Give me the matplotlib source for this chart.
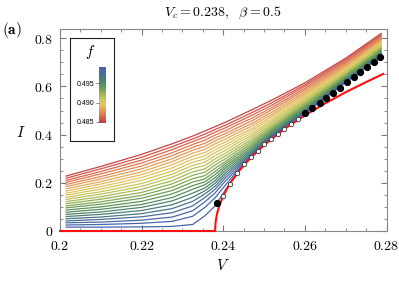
import numpy as np
import matplotlib
matplotlib.use('Agg')
import matplotlib.pyplot as plt
from matplotlib.colors import LinearSegmentedColormap, Normalize
from matplotlib.ticker import MultipleLocator, FuncFormatter
import matplotlib as mpl

plt.rcParams['mathtext.fontset'] = 'cm'
plt.rcParams['font.family'] = 'serif'
plt.rcParams['font.serif'] = ['DejaVu Serif']

# V grid shared by all f curves
V_grid = [0.2015, 0.21, 0.22, 0.2275, 0.2325, 0.2355, 0.238, 0.2405, 0.2435, 0.247, 0.252, 0.26, 0.27, 0.2787]

# f of each curve (column order of I_table), bottom curve first
f_vals = [0.4990, 0.4984, 0.4978, 0.4973, 0.4967, 0.4961, 0.4955, 0.4949, 0.4943, 0.4938,
          0.4932, 0.4926, 0.4920, 0.4914, 0.4908, 0.4903, 0.4897, 0.4891, 0.4885, 0.4879,
          0.4873, 0.4868, 0.4862, 0.4856, 0.4850]

# I values, one row per V in V_grid, one column per f
I_table = [
    [0.016, 0.025, 0.034, 0.042, 0.051, 0.060, 0.069, 0.078, 0.087, 0.096, 0.104, 0.113, 0.122, 0.131, 0.140, 0.149, 0.157, 0.166, 0.175, 0.184, 0.193, 0.202, 0.210, 0.219, 0.228],
    [0.016, 0.027, 0.037, 0.048, 0.058, 0.069, 0.079, 0.090, 0.100, 0.111, 0.121, 0.132, 0.142, 0.153, 0.163, 0.174, 0.184, 0.195, 0.205, 0.216, 0.226, 0.237, 0.247, 0.258, 0.268],
    [0.017, 0.032, 0.045, 0.059, 0.072, 0.085, 0.098, 0.110, 0.123, 0.136, 0.148, 0.160, 0.173, 0.185, 0.197, 0.210, 0.222, 0.234, 0.246, 0.258, 0.270, 0.282, 0.294, 0.306, 0.318],
    [0.019, 0.040, 0.058, 0.076, 0.093, 0.109, 0.125, 0.139, 0.154, 0.168, 0.182, 0.196, 0.209, 0.223, 0.236, 0.249, 0.262, 0.275, 0.288, 0.300, 0.313, 0.325, 0.338, 0.350, 0.362],
    [0.027, 0.061, 0.084, 0.104, 0.123, 0.140, 0.157, 0.173, 0.188, 0.203, 0.217, 0.231, 0.245, 0.259, 0.272, 0.285, 0.298, 0.310, 0.323, 0.335, 0.347, 0.359, 0.371, 0.382, 0.394],
    [0.063, 0.098, 0.121, 0.139, 0.154, 0.167, 0.179, 0.192, 0.204, 0.216, 0.230, 0.244, 0.258, 0.272, 0.286, 0.299, 0.312, 0.326, 0.339, 0.352, 0.364, 0.377, 0.390, 0.402, 0.415],
    [0.104, 0.138, 0.158, 0.173, 0.186, 0.198, 0.209, 0.221, 0.234, 0.247, 0.260, 0.274, 0.287, 0.299, 0.312, 0.325, 0.337, 0.349, 0.362, 0.374, 0.386, 0.398, 0.410, 0.421, 0.433],
    [0.170, 0.190, 0.207, 0.220, 0.231, 0.241, 0.251, 0.261, 0.270, 0.279, 0.288, 0.299, 0.311, 0.322, 0.334, 0.346, 0.357, 0.369, 0.381, 0.393, 0.404, 0.416, 0.428, 0.439, 0.451],
    [0.243, 0.250, 0.258, 0.266, 0.274, 0.282, 0.290, 0.298, 0.306, 0.315, 0.324, 0.334, 0.344, 0.354, 0.365, 0.375, 0.386, 0.396, 0.407, 0.418, 0.429, 0.441, 0.452, 0.463, 0.475],
    [0.311, 0.313, 0.316, 0.320, 0.324, 0.329, 0.335, 0.341, 0.348, 0.355, 0.363, 0.371, 0.379, 0.388, 0.397, 0.406, 0.416, 0.425, 0.436, 0.446, 0.457, 0.468, 0.480, 0.491, 0.503],
    [0.392, 0.393, 0.394, 0.396, 0.399, 0.403, 0.406, 0.411, 0.416, 0.421, 0.426, 0.432, 0.439, 0.446, 0.453, 0.460, 0.468, 0.477, 0.485, 0.494, 0.504, 0.513, 0.523, 0.533, 0.544],
    [0.488, 0.489, 0.491, 0.494, 0.497, 0.500, 0.504, 0.508, 0.512, 0.517, 0.522, 0.528, 0.533, 0.539, 0.545, 0.551, 0.557, 0.564, 0.570, 0.577, 0.585, 0.592, 0.600, 0.607, 0.615],
    [0.617, 0.618, 0.619, 0.621, 0.624, 0.627, 0.630, 0.633, 0.636, 0.640, 0.644, 0.648, 0.652, 0.657, 0.662, 0.666, 0.672, 0.677, 0.682, 0.687, 0.693, 0.699, 0.705, 0.711, 0.717],
    [0.725, 0.726, 0.728, 0.730, 0.733, 0.736, 0.739, 0.742, 0.745, 0.749, 0.753, 0.757, 0.761, 0.765, 0.769, 0.774, 0.779, 0.783, 0.788, 0.793, 0.798, 0.803, 0.809, 0.814, 0.820],
]

# critical curve (red)
red_V = [0.2, 0.238, 0.2381, 0.2383, 0.2386, 0.239, 0.240, 0.241, 0.242, 0.244, 0.246, 0.248, 0.250,
         0.255, 0.260, 0.265, 0.270, 0.275, 0.2792]
red_I = [0, 0, 0.033, 0.056, 0.080, 0.103, 0.145, 0.178, 0.206, 0.252, 0.291, 0.325, 0.356,
         0.424, 0.480, 0.530, 0.576, 0.618, 0.652]

# open circles
circ_V = [0.2400, 0.2417, 0.2434, 0.2451, 0.2467, 0.2484, 0.2500, 0.2517, 0.2534, 0.2550, 0.2567, 0.2584]
circ_I = [0.147, 0.196, 0.240, 0.278, 0.307, 0.334, 0.359, 0.382, 0.404, 0.424, 0.446, 0.466]

# filled dots
dot_V = [0.2385, 0.2601, 0.2618, 0.2636, 0.2652, 0.2668, 0.2685, 0.2704, 0.2720, 0.2736, 0.2753, 0.2769, 0.2785]
dot_I = [0.115, 0.488, 0.511, 0.532, 0.553, 0.574, 0.594, 0.617, 0.638, 0.658, 0.679, 0.700, 0.720]

cmap = LinearSegmentedColormap.from_list('darkrainbow', [
    '#c53c40', '#d8664b', '#e39b55', '#e3c65e', '#c4c45a', '#8cad55',
    '#5b9459', '#4c8070', '#4a6ba3', '#4863ad'])
norm = Normalize(vmin=0.4847, vmax=0.4992)

fig = plt.figure(figsize=(3.99, 2.81), dpi=100)
ax = fig.add_axes([60 / 399, 1 - 231 / 281, 326.5 / 399, 201.7 / 281])

I_arr = np.array(I_table)
for k in range(len(f_vals) - 1, -1, -1):
    ax.plot(V_grid, I_arr[:, k], color=cmap(norm(f_vals[k])), lw=0.9, zorder=2)

ax.plot(red_V, red_I, color='#ff1010', lw=1.5, zorder=3, clip_on=False)
ax.plot(circ_V, circ_I, 'o', ms=3.2, mfc='white', mec='#333333', mew=0.6, zorder=4)
ax.plot(dot_V, dot_I, 'o', ms=4.2, color='black', zorder=5)

ax.set_xlim(0.2, 0.28)
ax.set_ylim(0, 0.837)
ax.xaxis.set_major_locator(MultipleLocator(0.02))
ax.xaxis.set_minor_locator(MultipleLocator(0.005))
ax.yaxis.set_major_locator(MultipleLocator(0.2))
ax.yaxis.set_minor_locator(MultipleLocator(0.05))
fmt = FuncFormatter(lambda x, p: '$%g$' % round(x, 3))
ax.xaxis.set_major_formatter(fmt)
ax.yaxis.set_major_formatter(fmt)
ax.tick_params(which='both', direction='in', top=True, right=True, color='#777777', labelsize=10)
ax.tick_params(which='major', length=4)
ax.tick_params(which='minor', length=2.5)
ax.tick_params(axis='x', pad=5.5)
ax.tick_params(axis='y', pad=5)
for s in ax.spines.values():
    s.set_color('#888888')
    s.set_linewidth(0.8)

fig.text(223 / 399, 1 - 265 / 281, '$V$', fontsize=11, ha='center', va='center')
fig.text(21 / 399, 1 - 133 / 281, '$I$', fontsize=11, ha='center', va='center')
fig.text(223 / 399, 1 - 13 / 281, r'$V_c = 0.238,\ \ \beta = 0.5$', fontsize=10, ha='center', va='center')
fig.text(12 / 399, 1 - 30 / 281, r'$\mathbf{(a)}$', fontsize=11, ha='center', va='center')

# inset box with colour bar
box = fig.add_axes([70 / 399, 1 - 141 / 281, 44 / 399, 103.3 / 281])
box.set_xticks([])
box.set_yticks([])
for s in box.spines.values():
    s.set_color('#222222')
    s.set_linewidth(0.8)
box.text(0.47, 0.86, '$f$', fontsize=11, ha='center', va='center', transform=box.transAxes)

cax = fig.add_axes([99 / 399, 1 - 123 / 281, 7.5 / 399, 55.7 / 281])
cb = mpl.colorbar.ColorbarBase(cax, cmap=cmap, norm=norm, orientation='vertical')
cb.outline.set_visible(False)
cb.set_ticks([0.485, 0.490, 0.495])
cb.set_ticklabels(['0.485', '0.490', '0.495'])
cax.yaxis.set_ticks_position('left')
cax.tick_params(length=2, width=0.5, color='#555555', pad=1.5)
for lab in cax.get_yticklabels():
    lab.set_family('Liberation Sans')
    lab.set_fontsize(5)

fig.savefig('out.png', dpi=100)
